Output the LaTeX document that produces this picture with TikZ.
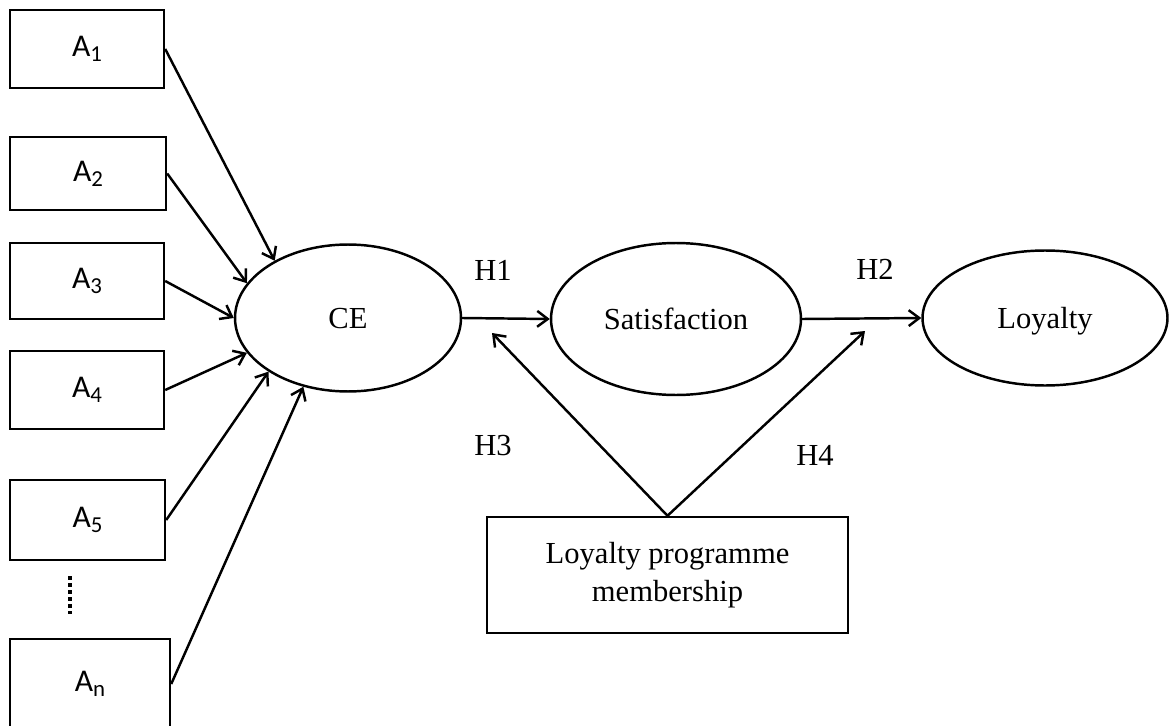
\documentclass[tikz,border=0pt]{standalone}
\usepackage{fontspec}
\setmainfont{Liberation Serif}
\newfontfamily\calibri{Carlito}
\usetikzlibrary{shapes.geometric,arrows.meta}

\newcommand{\asub}[1]{A\raisebox{-3pt}{\fontsize{13}{13}\selectfont #1}}

\begin{document}
\begin{tikzpicture}[x=0.02cm,y=-0.02cm,line width=1.4pt,
  >={Straight Barb[length=6pt,width=9pt]},
  font=\fontsize{17.4}{21.5}\selectfont,
  abox/.style={draw,rectangle,inner sep=0pt,font=\fontsize{18}{21}\selectfont\calibri},
  latent/.style={draw,ellipse,inner sep=0pt,text depth=0pt}]
\useasboundingbox (0,0) rectangle (1169,726);

% Antecedents
\node[abox,minimum width=3.08cm,minimum height=1.56cm] (a1) at (87,49) {\asub{1}};
\node[abox,minimum width=3.12cm,minimum height=1.46cm] (a2) at (88,173.5) {\asub{2}};
\node[abox,minimum width=3.08cm,minimum height=1.52cm] (a3) at (87,281) {\asub{3}};
\node[abox,minimum width=3.08cm,minimum height=1.56cm] (a4) at (87,390) {\asub{4}};
\node[abox,minimum width=3.10cm,minimum height=1.60cm] (a5) at (87.5,520) {\asub{5}};
\node[abox,minimum width=3.20cm,minimum height=1.80cm] (an) at (90,684) {\asub{n}};
\draw[line width=2pt,dash pattern=on 2pt off 2pt] (70,576) -- (70,614); % more items

% Latent variables
\node[latent,minimum width=4.52cm,minimum height=2.94cm] (ce) at (348,318) {CE};
\node[latent,minimum width=5.00cm,minimum height=3.04cm] (sat) at (676,319) {Satisfaction};
\node[latent,minimum width=4.90cm,minimum height=2.70cm] (loy) at (1045,318) {Loyalty};

% Moderator
\node[draw,rectangle,align=center,minimum width=7.22cm,minimum height=2.32cm] (lpm) at (667.5,575)
  {Loyalty programme\\membership};

% Paths into CE
\draw[->] (a1.east) -- (ce.142);
\draw[->] (a2.east) -- (ce.161);
\draw[->] (a3.east) -- (ce.180);
\draw[->] (a4.east) -- (ce.199);
\draw[->] (a5.east) -- (ce.214);
\draw[->] (an.east) -- (ce.237);

% Hypotheses
\coordinate (h3end) at (492,333);
\coordinate (h4end) at (865,331);
\draw[->] (ce.east) -- (sat.west);
\draw[->] (sat.east) -- (loy.west);
\draw[->] (lpm.north) -- (h3end);
\draw[->] (lpm.north) -- (h4end);
\node (h1) at (493,270) {H1};
\node (h2) at (875,269) {H2};
\node (h3) at (493,446) {H3};
\node (h4) at (815,455) {H4};

\end{tikzpicture}
\end{document}
